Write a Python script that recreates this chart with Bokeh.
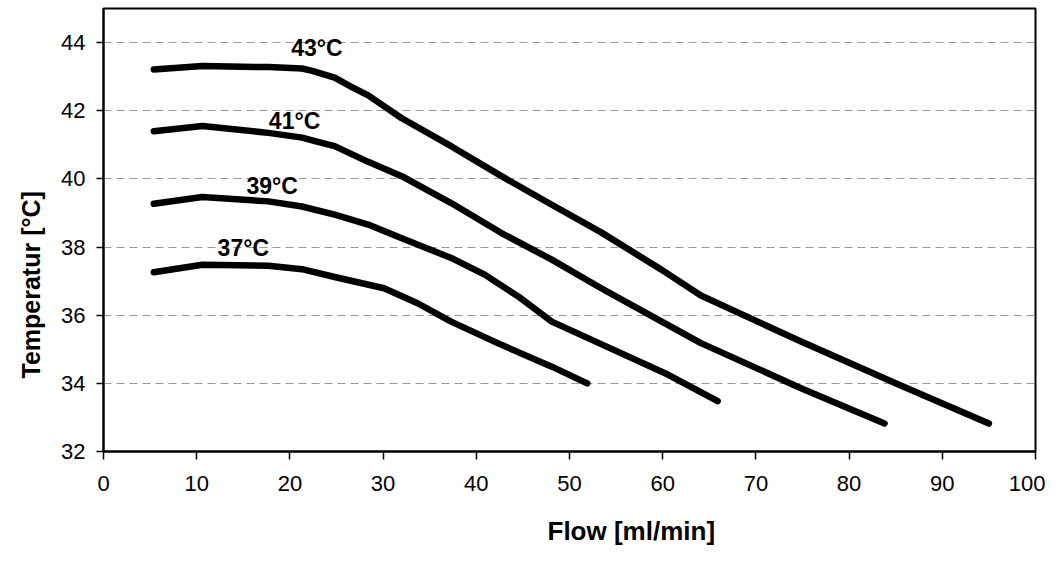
from bokeh.plotting import figure
from bokeh.models import Label, Range1d, FixedTicker, Title
from bokeh.embed import file_html
from bokeh.resources import INLINE

# ---- data ----
x_43 = [5.4, 10.6, 17.7, 21.3, 22.4, 24.8, 26.6, 28.4, 32.0, 37.3, 42.7, 48.1, 53.4, 59.9, 64.1, 74.9, 85.6, 95.0]
y_43 = [43.21, 43.31, 43.28, 43.24, 43.17, 42.97, 42.70, 42.45, 41.78, 40.96, 40.08, 39.24, 38.43, 37.33, 36.58, 35.22, 33.93, 32.82]

x_41 = [5.4, 10.6, 17.7, 21.3, 23.1, 24.8, 28.4, 32.0, 37.3, 42.7, 48.1, 53.4, 59.9, 64.1, 74.9, 83.8]
y_41 = [41.40, 41.55, 41.35, 41.21, 41.08, 40.96, 40.50, 40.08, 39.29, 38.41, 37.63, 36.79, 35.81, 35.18, 33.85, 32.82]

x_39 = [5.4, 10.6, 17.7, 21.3, 24.8, 28.4, 32.0, 37.3, 40.9, 44.5, 48.1, 53.4, 60.6, 65.9]
y_39 = [39.27, 39.47, 39.34, 39.19, 38.95, 38.66, 38.26, 37.68, 37.19, 36.55, 35.81, 35.15, 34.25, 33.48]

x_37 = [5.4, 10.6, 17.7, 21.3, 24.8, 30.1, 33.7, 37.3, 42.7, 48.1, 51.9]
y_37 = [37.26, 37.48, 37.45, 37.35, 37.12, 36.79, 36.35, 35.81, 35.13, 34.49, 34.00]

series_names = ["43°C", "41°C", "39°C", "37°C"]
label_x = [22.9, 20.5, 18.1, 15.0]
label_y = [43.85, 41.69, 39.78, 37.97]

x_ticks = [0, 10, 20, 30, 40, 50, 60, 70, 80, 90, 100]
y_ticks = [32, 34, 36, 38, 40, 42, 44]

x_title = "Flow [ml/min]"
y_title = "Temperatur [°C]"

FONT = "Liberation Sans"

p = figure(frame_width=932, frame_height=443,
           x_range=Range1d(0, 100), y_range=Range1d(32, 45),
           output_backend="svg", toolbar_location=None,
           min_border_left=101, min_border_right=10,
           min_border_top=8, min_border_bottom=110,
           background_fill_color="white", border_fill_color="white")

p.outline_line_color = "black"
p.outline_line_width = 2
p.outline_line_alpha = 1.0

p.xgrid.visible = False
p.ygrid.ticker = FixedTicker(ticks=y_ticks)
p.ygrid.grid_line_color = "#999999"
p.ygrid.grid_line_dash = "8 5"
p.ygrid.grid_line_width = 1

for ax, ticks in ((p.xaxis[0], x_ticks), (p.yaxis[0], y_ticks)):
    ax.ticker = FixedTicker(ticks=ticks)
    ax.minor_tick_line_color = None
    ax.major_tick_in = 0
    ax.axis_line_color = "black"
    ax.axis_line_width = 2
    ax.major_tick_line_color = "black"
    ax.major_tick_line_width = 1.5
    ax.major_label_text_font = FONT
    ax.major_label_text_font_size = "22px"
    ax.major_label_text_color = "black"

p.xaxis.major_tick_out = 8
p.xaxis.major_label_standoff = 16
p.yaxis.major_tick_out = 7
p.yaxis.major_label_standoff = 11

for xs, ys in ((x_43, y_43), (x_41, y_41), (x_39, y_39), (x_37, y_37)):
    p.line(xs, ys, line_color="black", line_width=6.5,
           line_cap="round", line_join="round")

for name, lx, ly in zip(series_names, label_x, label_y):
    p.add_layout(Label(x=lx, y=ly, text=name, text_font=FONT,
                       text_font_size="23px", text_font_style="bold",
                       text_align="center", text_baseline="middle",
                       text_color="black"))

p.add_layout(Title(text=x_title, text_font=FONT, text_font_size="26px",
                   text_font_style="bold", text_color="black",
                   align="left", offset=444, standoff=40), "below")
p.add_layout(Title(text=y_title, text_font=FONT, text_font_size="25px",
                   text_font_style="bold", text_color="black",
                   align="left", offset=73, standoff=28), "left")

open("out.html", "w").write(file_html(p, INLINE))
